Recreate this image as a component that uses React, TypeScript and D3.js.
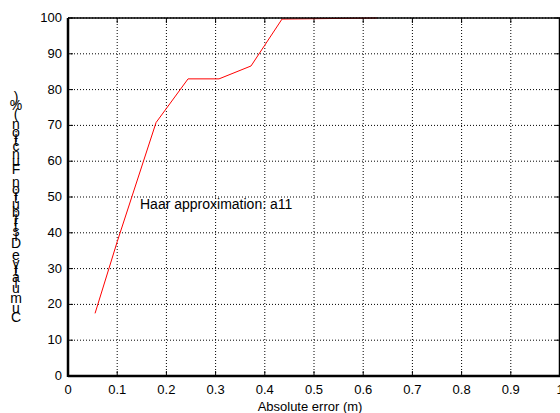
import React from "react";
import * as d3 from "d3";

const errX = [0.055, 0.1, 0.179, 0.244, 0.307, 0.372, 0.435, 0.5, 0.628];
const cdfY = [17.5, 37.5, 70.8, 83, 83, 86.6, 99.7, 99.8, 100];
const xTicks = [0, 0.1, 0.2, 0.3, 0.4, 0.5, 0.6, 0.7, 0.8, 0.9, 1];
const yTicks = [0, 10, 20, 30, 40, 50, 60, 70, 80, 90, 100];
const xLabel = "Absolute error (m)";
const yLabel = "Cumulative Distribution Function (%)";
const annotation = "Haar approximation: a11";

const W = 560, H = 413;
const M = { left: 68, right: 560, top: 18, bottom: 376 };
const FONT = "Arial, 'Liberation Sans', sans-serif";

function measure(ch: string, size: number) {
  const c = document.createElement("canvas").getContext("2d");
  if (!c) return size * 0.55;
  c.font = `${size}px 'Liberation Sans', Arial, sans-serif`;
  return c.measureText(ch).width;
}

export default function App() {
  const x = d3.scaleLinear().domain([0, 1]).range([M.left, M.right]);
  const y = d3.scaleLinear().domain([0, 100]).range([M.bottom, M.top]);
  const line = d3.line<number>().x((_, i) => x(errX[i])).y((d) => y(d));
  const pathD = line(cdfY) || "";

  const fs = 14;
  const widths = yLabel.split("").map((ch) => measure(ch, fs));
  const total = widths.reduce((a, b) => a + b, 0);
  const centerY = 208;
  let cum = 0;
  const glyphs = yLabel.split("").map((ch, i) => {
    const cy = centerY + total / 2 - (cum + widths[i] / 2);
    cum += widths[i];
    return { ch, cy };
  });

  return (
    <svg
      width={W}
      height={H}
      style={{ position: "absolute", left: 0, top: 0, background: "#fff" }}
      fontFamily={FONT}
    >
      <rect x={0} y={0} width={W} height={H} fill="#fff" />
      {/* grid */}
      {xTicks.map((t) => (
        <line key={"gx" + t} x1={x(t)} x2={x(t)} y1={M.top} y2={M.bottom}
          stroke="#000" strokeWidth={1} strokeDasharray="1,2" />
      ))}
      {yTicks.map((t) => (
        <line key={"gy" + t} x1={M.left} x2={M.right} y1={y(t)} y2={y(t)}
          stroke="#000" strokeWidth={1} strokeDasharray="1,2" />
      ))}
      {/* ticks */}
      {xTicks.map((t) => (
        <g key={"tx" + t}>
          <line x1={x(t)} x2={x(t)} y1={M.bottom} y2={M.bottom - 5} stroke="#000" />
          <line x1={x(t)} x2={x(t)} y1={M.top} y2={M.top + 5} stroke="#000" />
          <text x={x(t)} y={394} textAnchor="middle" fontSize={13} fill="#000">{String(t)}</text>
        </g>
      ))}
      {yTicks.map((t) => (
        <g key={"ty" + t}>
          <line x1={M.left} x2={M.left + 5} y1={y(t)} y2={y(t)} stroke="#000" />
          <line x1={M.right} x2={M.right - 5} y1={y(t)} y2={y(t)} stroke="#000" />
          <text x={62} y={y(t) + 4} textAnchor="end" fontSize={13} fill="#000">{String(t)}</text>
        </g>
      ))}
      {/* data */}
      <path d={pathD} fill="none" stroke="#ff0000" strokeWidth={1} />
      {/* axes box */}
      <line x1={M.left} x2={M.right} y1={M.top} y2={M.top} stroke="#000" strokeWidth={1.5} />
      <line x1={M.right - 0.5} x2={M.right - 0.5} y1={M.top} y2={M.bottom} stroke="#000" strokeWidth={1.5} />
      <line x1={M.left} x2={M.left} y1={M.top} y2={M.bottom + 1} stroke="#000" strokeWidth={2.5} />
      <line x1={M.left} x2={M.right} y1={M.bottom} y2={M.bottom} stroke="#000" strokeWidth={2.5} />
      {/* annotation */}
      <text x={140} y={209} fontSize={14} fill="#000">{annotation}</text>
      {/* x label */}
      <text x={310} y={411} textAnchor="middle" fontSize={13} fill="#000">{xLabel}</text>
      {/* y label: upright glyphs stacked vertically */}
      {glyphs.map((g, i) => (
        <text key={"yl" + i} x={16} y={g.cy} textAnchor="middle"
          dominantBaseline="central" fontSize={fs} fill="#000">{g.ch}</text>
      ))}
    </svg>
  );
}
